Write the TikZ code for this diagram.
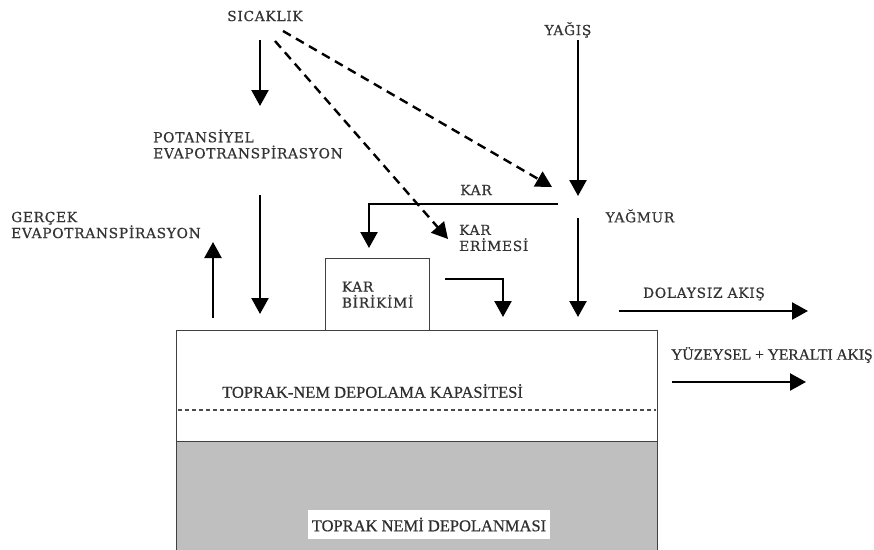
\documentclass[tikz,border=0pt]{standalone}
\usepackage{fontspec}
\setmainfont{Liberation Serif}[FakeBold=0.5]
\newfontfamily\labfont[LetterSpace=5,FakeBold=0.6]{DejaVu Serif}
\usetikzlibrary{arrows.meta}
\begin{document}
\begin{tikzpicture}[x=1pt,y=-1pt,
  lab/.style={font=\labfont\fontsize{13.8}{16}\selectfont, text=black!80, inner sep=0pt, align=left},
  tlab/.style={font=\fontsize{16.5}{18}\selectfont, text=black!82, inner sep=0pt},
  flow/.style={line width=2.4pt, -{Triangle[width=17pt,length=16pt]}},
  dflow/.style={flow, dash pattern=on 9pt off 6pt},
  edge/.style={line width=1.3pt, draw=black!75}]
\useasboundingbox (0,0) rectangle (874,549);

% soil boxes
\node[edge, draw, fill=white, minimum width=481pt, minimum height=111pt, inner sep=0pt, anchor=north west] (cap) at (176,330) {};
\node[edge, draw, fill=black!25, minimum width=481pt, minimum height=120pt, inner sep=0pt, anchor=north west] (sto) at (176,441) {};
\coordinate (dl) at (178,410);
\coordinate (dr) at (656,410);
\draw[line width=1.2pt, black!70, dash pattern=on 4pt off 3pt] (dl) -- (dr);
\node[tlab, anchor=west] (capt) at (222,391) {TOPRAK-NEM DEPOLAMA KAPASİTESİ};
\node[tlab, fill=white, minimum width=242pt, minimum height=29pt] (stot) at (429,524.5) {TOPRAK NEMİ DEPOLANMASI};

% snow pack box
\node[edge, draw, fill=white, minimum width=104pt, minimum height=72pt, anchor=north west, lab, inner sep=0pt] (kb) at (325,258) {KAR\\BİRİKİMİ};

% labels
\node[lab] (sic) at (265,16) {SICAKLIK};
\node[lab] (yag) at (568,30) {YAĞIŞ};
\node[lab, anchor=west] (pot) at (153,144) {POTANSİYEL\\EVAPOTRANSPİRASYON};
\node[lab, anchor=west] (ger) at (11,225) {GERÇEK\\EVAPOTRANSPİRASYON};
\node[lab] (kar) at (476,190) {KAR};
\node[lab] (yagm) at (640,216) {YAĞMUR};
\node[lab, anchor=west] (ker) at (459,238) {KAR\\ERİMESİ};
\node[lab] (dol) at (704,294) {DOLAYSIZ AKIŞ};
\node[tlab, anchor=west, font=\fontsize{15.5}{18}\selectfont] (yuz) at (671,355) {YÜZEYSEL + YERALTI AKIŞ};

% coordinates
\coordinate (s1) at (260,40);   \coordinate (s1e) at (260,106);
\coordinate (d1) at (283,31);   \coordinate (d1e) at (552,187);
\coordinate (d2) at (275,41);   \coordinate (d2e) at (448,239);
\coordinate (p1) at (260,195);  \coordinate (p1e) at (260,314);
\coordinate (g1) at (213,318);  \coordinate (g1e) at (213,242);
\coordinate (y1) at (578,40);   \coordinate (y1e) at (578,196);
\coordinate (k1) at (558,204);  \coordinate (k1e) at (369,248);
\coordinate (r1) at (578,218);  \coordinate (r1e) at (578,317);
\coordinate (m1) at (445,279);  \coordinate (m1e) at (503,317);
\coordinate (o1) at (619,311);  \coordinate (o1e) at (808,311);
\coordinate (u1) at (672,382);  \coordinate (u1e) at (806,382);

% arrows
\draw[flow] (s1) -- (s1e);
\draw[dflow] (d1) -- (d1e);
\draw[dflow] (d2) -- (d2e);
\draw[flow] (p1) -- (p1e);
\draw[flow] (g1) -- (g1e);
\draw[flow] (y1) -- (y1e);
\draw[flow] (k1) -| (k1e);
\draw[flow] (r1) -- (r1e);
\draw[flow] (m1) -| (m1e);
\draw[flow] (o1) -- (o1e);
\draw[flow] (u1) -- (u1e);
\end{tikzpicture}
\end{document}
